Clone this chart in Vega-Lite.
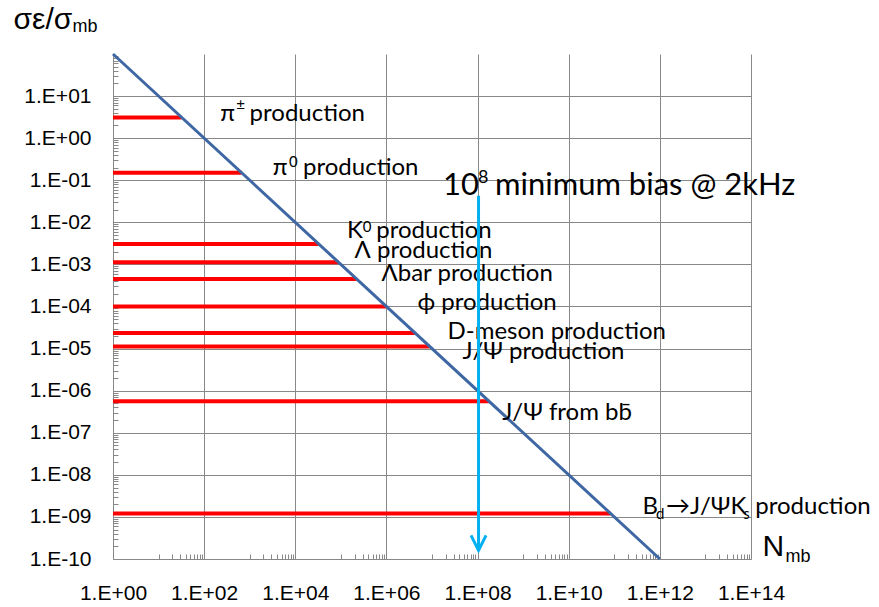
{
  "$schema": "https://vega.github.io/schema/vega-lite/v6.json",
  "width": 638,
  "height": 505,
  "autosize": {"type": "none"},
  "padding": {"left": 113, "top": 54, "right": 128, "bottom": 48},
  "background": "white",
  "config": {"view": {"stroke": null}},
  "datasets": {
    "levels": [
      {"process": "pi+-", "N_from": 1, "N_to": 32, "ratio": 3.1},
      {"process": "pi0", "N_from": 1, "N_to": 667, "ratio": 0.15},
      {"process": "K0", "N_from": 1, "N_to": 32600, "ratio": 0.00307},
      {"process": "Lambda", "N_from": 1, "N_to": 89000, "ratio": 0.00112},
      {"process": "Lambdabar", "N_from": 1, "N_to": 222000, "ratio": 0.00045},
      {"process": "phi", "N_from": 1, "N_to": 1000000, "ratio": 0.0001},
      {"process": "D-meson", "N_from": 1, "N_to": 4200000, "ratio": 0.0000236},
      {"process": "J/Psi", "N_from": 1, "N_to": 8900000, "ratio": 0.0000112},
      {"process": "J/Psi from bb", "N_from": 1, "N_to": 180000000, "ratio": 5.6e-7},
      {"process": "Bd", "N_from": 1, "N_to": 83000000000, "ratio": 1.2e-9}
    ],
    "limit": [
      {"N": 1, "ratio": 100},
      {"N": 1e12, "ratio": 1e-10}
    ],
    "arrow": [
      {"N": 105000000, "top": 0.043, "tip": 1.6e-10}
    ],
    "notes": [
      {"label": "π", "N": 226, "ratio": 2.6},
      {"label": "production", "N": 995, "ratio": 2.6},
      {"label": "π", "N": 3190, "ratio": 0.133},
      {"label": "production", "N": 14800, "ratio": 0.133},
      {"label": "K", "N": 136500, "ratio": 0.00424},
      {"label": "production", "N": 600000, "ratio": 0.00424},
      {"label": "Λ production", "N": 200000, "ratio": 0.00145},
      {"label": "Λbar production", "N": 780000, "ratio": 0.000412},
      {"label": "ϕ production", "N": 4800000, "ratio": 0.000084},
      {"label": "D-meson production", "N": 21900000, "ratio": 0.0000173},
      {"label": "J/Ψ production", "N": 46700000, "ratio": 0.0000058},
      {"label": "J/Ψ from bb̄", "N": 350000000, "ratio": 2.06e-7},
      {"label": "B", "N": 417000000000, "ratio": 1.17e-9},
      {"label": "→J/ΨK", "N": 1370000000000, "ratio": 1.17e-9},
      {"label": "production", "N": 124000000000000, "ratio": 1.17e-9}
    ],
    "supers": [
      {"label": "±", "N": 508, "ratio": 4.75},
      {"label": "0", "N": 7300, "ratio": 0.21},
      {"label": "0", "N": 301500, "ratio": 0.00598}
    ],
    "subs": [
      {"label": "d", "N": 826000000000, "ratio": 9.0e-10},
      {"label": "s", "N": 68000000000000, "ratio": 9.0e-10}
    ],
    "callout": [
      {"label": "10", "N": 17500000, "ratio": 0.0446},
      {"label": "minimum bias @ 2kHz", "N": 241000000, "ratio": 0.0446}
    ],
    "callout_sup": [
      {"label": "8", "N": 102000000, "ratio": 0.0846}
    ]
  },
  "layer": [
    {
      "data": {"name": "levels"},
      "mark": {"type": "rule", "color": "#FF0000", "strokeWidth": 4},
      "encoding": {
        "x": {
          "field": "N_from", "type": "quantitative",
          "scale": {"type": "log", "domain": [1, 1e14], "nice": false},
          "axis": {
            "orient": "bottom",
            "values": [1, 100, 10000, 1000000, 100000000, 10000000000, 1000000000000, 100000000000000],
            "grid": true, "gridColor": "#888888", "gridWidth": 1,
            "domain": true, "domainColor": "#888888", "domainWidth": 1,
            "ticks": false,
            "labelExpr": "'1.E+' + (round(log(datum.value)/LN10) < 10 ? '0' : '') + round(log(datum.value)/LN10)",
            "labelFont": "Liberation Sans", "labelFontSize": 21, "labelColor": "#000000",
            "labelPadding": 40, "labelBaseline": "alphabetic", "labelAlign": "center",
            "labelFlush": false, "labelOverlap": false, "labelBound": false,
            "title": "N", "titleFont": "Liberation Sans", "titleFontSize": 30, "titleFontWeight": "normal",
            "titleColor": "#000000", "titleAlign": "left", "titleBaseline": "alphabetic",
            "titleX": 649, "titleY": -4
          }
        },
        "x2": {"field": "N_to"},
        "y": {
          "field": "ratio", "type": "quantitative",
          "scale": {"type": "log", "domain": [1e-10, 100], "nice": false},
          "axis": {
            "orient": "left",
            "values": [1e-10, 1e-9, 1e-8, 1e-7, 1e-6, 1e-5, 1e-4, 1e-3, 1e-2, 1e-1, 1, 10],
            "grid": true, "gridColor": "#888888", "gridWidth": 1,
            "domain": true, "domainColor": "#888888", "domainWidth": 1,
            "ticks": false,
            "labelExpr": "'1.E' + (datum.value < 1 ? '-' : '+') + (abs(round(log(datum.value)/LN10)) < 10 ? '0' : '') + abs(round(log(datum.value)/LN10))",
            "labelFont": "Liberation Sans", "labelFontSize": 21, "labelColor": "#000000",
            "labelPadding": 22, "labelBaseline": "middle", "labelAlign": "right",
            "labelFlush": false, "labelOverlap": false, "labelBound": false,
            "title": "σε/σ", "titleFont": "Liberation Sans", "titleFontSize": 30, "titleFontWeight": "normal",
            "titleColor": "#000000", "titleAngle": 0, "titleAlign": "left", "titleBaseline": "alphabetic",
            "titleX": -100, "titleY": -26
          }
        }
      }
    },
    {
      "data": {"name": "limit"},
      "mark": {"type": "line", "color": "#3E67A3", "strokeWidth": 3},
      "encoding": {
        "x": {
          "field": "N", "type": "quantitative",
          "axis": {
            "orient": "bottom", "offset": -5,
            "values": [10,20,30,40,50,60,70,80,90,1000,2000,3000,4000,5000,6000,7000,8000,9000,100000,200000,300000,400000,500000,600000,700000,800000,900000,10000000,20000000,30000000,40000000,50000000,60000000,70000000,80000000,90000000,1000000000,2000000000,3000000000,4000000000,5000000000,6000000000,7000000000,8000000000,9000000000,100000000000,200000000000,300000000000,400000000000,500000000000,600000000000,700000000000,800000000000,900000000000,10000000000000,20000000000000,30000000000000,40000000000000,50000000000000,60000000000000,70000000000000,80000000000000,90000000000000],
            "grid": false, "domain": false, "labels": false,
            "ticks": true, "tickSize": 5, "tickColor": "#888888", "tickWidth": 1,
            "title": "mb", "titleFont": "Liberation Sans", "titleFontSize": 18, "titleFontWeight": "normal",
            "titleColor": "#000000", "titleAlign": "left", "titleBaseline": "alphabetic",
            "titleX": 672, "titleY": 7
          }
        },
        "y": {
          "field": "ratio", "type": "quantitative",
          "axis": {
            "orient": "left", "offset": -5,
            "values": [2e-10,3e-10,4e-10,5e-10,6e-10,7e-10,8e-10,9e-10,2e-9,3e-9,4e-9,5e-9,6e-9,7e-9,8e-9,9e-9,2e-8,3e-8,4e-8,5e-8,6e-8,7e-8,8e-8,9e-8,2e-7,3e-7,4e-7,5e-7,6e-7,7e-7,8e-7,9e-7,2e-6,3e-6,4e-6,5e-6,6e-6,7e-6,8e-6,9e-6,2e-5,3e-5,4e-5,5e-5,6e-5,7e-5,8e-5,9e-5,2e-4,3e-4,4e-4,5e-4,6e-4,7e-4,8e-4,9e-4,0.002,0.003,0.004,0.005,0.006,0.007,0.008,0.009,0.02,0.03,0.04,0.05,0.06,0.07,0.08,0.09,0.2,0.3,0.4,0.5,0.6,0.7,0.8,0.9,2,3,4,5,6,7,8,9,20,30,40,50,60,70,80,90],
            "grid": false, "domain": false, "labels": false,
            "ticks": true, "tickSize": 5, "tickColor": "#888888", "tickWidth": 1,
            "title": "mb", "titleFont": "Liberation Sans", "titleFontSize": 18, "titleFontWeight": "normal",
            "titleColor": "#000000", "titleAngle": 0, "titleAlign": "left", "titleBaseline": "alphabetic",
            "titleX": -46, "titleY": -23
          }
        }
      }
    },
    {
      "data": {"name": "notes"},
      "mark": {"type": "text", "font": "Lato", "fontSize": 24, "align": "left", "baseline": "alphabetic", "color": "#000000"},
      "encoding": {
        "x": {"field": "N", "type": "quantitative", "axis": null},
        "y": {"field": "ratio", "type": "quantitative", "axis": null},
        "text": {"field": "label"}
      }
    },
    {
      "data": {"name": "supers"},
      "mark": {"type": "text", "font": "Lato", "fontSize": 15, "align": "left", "baseline": "alphabetic", "color": "#000000"},
      "encoding": {
        "x": {"field": "N", "type": "quantitative", "axis": null},
        "y": {"field": "ratio", "type": "quantitative", "axis": null},
        "text": {"field": "label"}
      }
    },
    {
      "data": {"name": "subs"},
      "mark": {"type": "text", "font": "Lato", "fontSize": 15, "align": "left", "baseline": "alphabetic", "color": "#000000"},
      "encoding": {
        "x": {"field": "N", "type": "quantitative", "axis": null},
        "y": {"field": "ratio", "type": "quantitative", "axis": null},
        "text": {"field": "label"}
      }
    },
    {
      "data": {"name": "callout"},
      "mark": {"type": "text", "font": "Lato", "fontSize": 31, "align": "left", "baseline": "alphabetic", "color": "#000000"},
      "encoding": {
        "x": {"field": "N", "type": "quantitative", "axis": null},
        "y": {"field": "ratio", "type": "quantitative", "axis": null},
        "text": {"field": "label"}
      }
    },
    {
      "data": {"name": "callout_sup"},
      "mark": {"type": "text", "font": "Lato", "fontSize": 18, "align": "left", "baseline": "alphabetic", "color": "#000000"},
      "encoding": {
        "x": {"field": "N", "type": "quantitative", "axis": null},
        "y": {"field": "ratio", "type": "quantitative", "axis": null},
        "text": {"field": "label"}
      }
    },
    {
      "data": {"name": "arrow"},
      "mark": {"type": "rule", "color": "#00B0F0", "strokeWidth": 3},
      "encoding": {
        "x": {"field": "N", "type": "quantitative", "axis": null},
        "y": {"field": "top", "type": "quantitative", "axis": null},
        "y2": {"field": "tip"}
      }
    },
    {
      "data": {"name": "arrow"},
      "mark": {"type": "point", "shape": "M-0.5,-1L0,0L0.5,-1", "size": 900, "filled": false, "stroke": "#00B0F0", "strokeWidth": 3, "opacity": 1},
      "encoding": {
        "x": {"field": "N", "type": "quantitative", "axis": null},
        "y": {"field": "tip", "type": "quantitative", "axis": null}
      }
    }
  ],
  "resolve": {"axis": {"x": "independent", "y": "independent"}}
}
